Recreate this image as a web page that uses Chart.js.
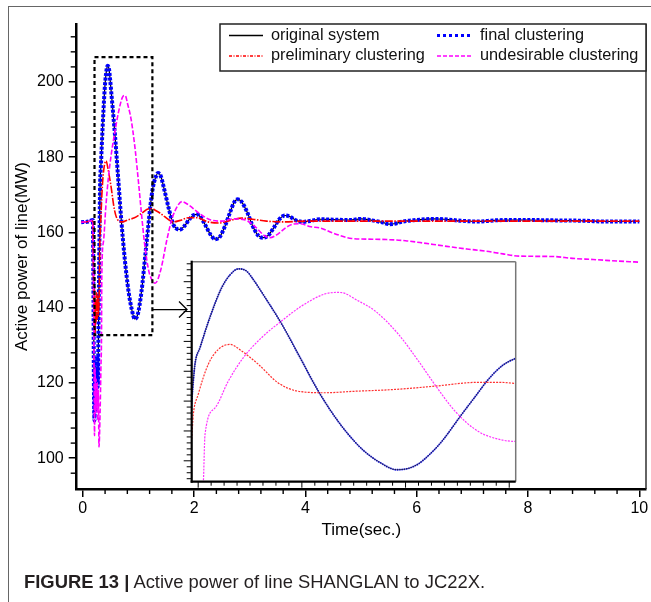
<!DOCTYPE html>
<html>
<head>
<meta charset="utf-8">
<script src="https://cdn.jsdelivr.net/npm/chart.js@4.4.0/dist/chart.umd.min.js"></script>
<style>
  body { margin: 0; background: #fff; }
  #wrap { position: relative; width: 651px; height: 602px; overflow: hidden; }
  #frame { position: absolute; left: 8px; top: 6px; width: 660px; height: 620px; border-left: 1.5px solid #666; border-top: 1.5px solid #666; }
  #main { position: absolute; left: 0; top: 0; }
  #inset { position: absolute; left: 181px; top: 255px; }
  #caption { position: absolute; left: 24px; top: 571px; line-height: 22px; font: 18.4px "Liberation Sans", Arial, sans-serif; color: #231f20; white-space: nowrap; }
</style>
</head>
<body>
<div id="wrap">
  <div id="frame"></div>
  <canvas id="main" width="651" height="602"></canvas>
  <canvas id="inset" width="340" height="235"></canvas>
  <div id="caption"><b>FIGURE 13 |</b> Active power of line SHANGLAN to JC22X.</div>
</div>
<script>
const FONT = '"Liberation Sans", Arial, sans-serif';

// axis ticks
const xTicks = [0, 2, 4, 6, 8, 10];
const yTicks = [100, 120, 140, 160, 180, 200];

const seriesNames = ['original system', 'preliminary clustering', 'final clustering', 'undesirable clustering'];

// [time (s), active power (MW)]
const originalSystem = [[-0.03,162.7],[0.1,162.9],[0.18,163.3],[0.19,150],[0.2,125],[0.21,117],[0.22,124],[0.23,116],[0.24,121],[0.25,118],[0.26,124],[0.27,120],[0.28,131],[0.29,146],[0.3,160],[0.31,172.3],[0.326,178],[0.356,188],[0.393,198.1],[0.42,202.5],[0.444,204.3],[0.47,203.5],[0.485,201.5],[0.526,194.8],[0.578,185.8],[0.629,175.7],[0.691,163.3],[0.752,153.2],[0.804,146.3],[0.835,143],[0.88,139.5],[0.933,137],[0.97,137.5],[1.0,139],[1.036,142.3],[1.072,146.5],[1.133,155.5],[1.175,161.5],[1.215,167.2],[1.26,172],[1.3,174.3],[1.35,175.8],[1.4,175],[1.47,171],[1.55,166],[1.63,162],[1.7,160.9],[1.75,160.8],[1.82,161.6],[1.9,163.2],[1.98,164.5],[2.05,164.8],[2.12,164],[2.2,162],[2.3,159.3],[2.38,158.2],[2.46,158.8],[2.55,161.5],[2.65,165.5],[2.72,168],[2.78,168.8],[2.85,168.2],[2.95,165.5],[3.05,161.8],[3.15,159.2],[3.24,158.6],[3.33,159.2],[3.43,161.2],[3.53,163.5],[3.63,164.5],[3.72,164.2],[3.82,163.3],[3.95,162.8],[4.1,163.1],[4.26,163.5],[4.5,163.4],[4.8,163.3],[5.0,163.6],[5.2,163.2],[5.4,162.6],[5.5,162.2],[5.6,162.3],[5.75,162.9],[6.0,163.3],[6.3,163.6],[6.5,163.5],[6.8,163.1],[7.1,162.9],[7.4,163.2],[7.7,163.3],[8.0,163.3],[8.5,163.2],[9.0,163.1],[9.4,162.9],[9.7,162.9],[10,162.9]];

const finalClustering = [[-0.03,162.7],[0.1,162.9],[0.18,163.3],[0.19,146],[0.2,118],[0.21,110],[0.22,122],[0.23,113],[0.24,125],[0.25,117],[0.26,127],[0.27,119],[0.28,132],[0.29,146],[0.3,160],[0.31,172.3],[0.326,178],[0.356,188],[0.393,198.1],[0.42,202.5],[0.444,204.3],[0.47,203.5],[0.485,201.5],[0.526,194.8],[0.578,185.8],[0.629,175.7],[0.691,163.3],[0.752,153.2],[0.804,146.3],[0.835,143],[0.88,139.5],[0.933,137],[0.97,137.5],[1.0,139],[1.036,142.3],[1.072,146.5],[1.133,155.5],[1.175,161.5],[1.215,167.2],[1.26,172],[1.3,174.3],[1.35,175.8],[1.4,175],[1.47,171],[1.55,166],[1.63,162],[1.7,160.9],[1.75,160.8],[1.82,161.6],[1.9,163.2],[1.98,164.5],[2.05,164.8],[2.12,164],[2.2,162],[2.3,159.3],[2.38,158.2],[2.46,158.8],[2.55,161.5],[2.65,165.5],[2.72,168],[2.78,168.8],[2.85,168.2],[2.95,165.5],[3.05,161.8],[3.15,159.2],[3.24,158.6],[3.33,159.2],[3.43,161.2],[3.53,163.5],[3.63,164.5],[3.72,164.2],[3.82,163.3],[3.95,162.8],[4.1,163.1],[4.26,163.5],[4.5,163.4],[4.8,163.3],[5.0,163.6],[5.2,163.2],[5.4,162.6],[5.5,162.2],[5.6,162.3],[5.75,162.9],[6.0,163.3],[6.3,163.6],[6.5,163.5],[6.8,163.1],[7.1,162.9],[7.4,163.2],[7.7,163.3],[8.0,163.3],[8.5,163.2],[9.0,163.1],[9.4,162.9],[9.7,162.9],[10,162.9]];

const preliminaryClustering = [[-0.03,162.7],[0.1,162.9],[0.18,163.2],[0.19,152],[0.2,138],[0.21,145],[0.22,133],[0.23,142],[0.24,136],[0.25,144],[0.26,137],[0.27,143],[0.28,138],[0.29,141],[0.3,147.6],[0.305,155.5],[0.32,162.2],[0.351,172.3],[0.382,177.3],[0.418,179],[0.454,176.8],[0.506,172.3],[0.567,166.1],[0.629,163.3],[0.711,162.8],[0.804,163.3],[0.927,163.9],[1.05,165],[1.185,166.3],[1.25,166.3],[1.3,165.9],[1.4,165],[1.55,163.3],[1.63,162.8],[1.75,163.2],[1.9,163.9],[2.05,163.9],[2.25,162.8],[2.45,162.5],[2.65,163.2],[2.85,163.8],[3.05,163.5],[3.3,163],[3.6,162.8],[4,163],[5,163],[6,163],[7,163],[8,163],[9,163],[10,163]];

const undesirableClustering = [[-0.03,162.7],[0.1,162.9],[0.18,163.2],[0.19,150],[0.2,128],[0.21,106],[0.22,124],[0.23,112],[0.24,121],[0.25,113],[0.26,120],[0.27,110],[0.28,118],[0.29,103],[0.31,112],[0.325,124],[0.336,133],[0.341,148.7],[0.372,157.7],[0.413,166.7],[0.459,174.5],[0.516,181.3],[0.578,186.9],[0.64,191.9],[0.711,195.9],[0.752,196.4],[0.773,196.1],[0.804,194.2],[0.866,190.2],[0.938,182.4],[1.0,173.4],[1.05,165.6],[1.113,156.6],[1.185,149.8],[1.257,147],[1.3,146.5],[1.4,150],[1.51,158],[1.6,163.5],[1.7,167],[1.78,168.2],[1.9,167.3],[2.1,165],[2.3,163.3],[2.5,163],[2.7,163.6],[2.9,163.4],[3.1,161.5],[3.25,159.3],[3.36,158.6],[3.5,159.5],[3.65,161.3],[3.78,162.2],[3.9,162.3],[4.1,161.5],[4.26,161.2],[4.5,159.8],[4.83,158.4],[5.2,158.2],[5.46,158.1],[5.8,157.8],[6.06,157.3],[6.3,156.8],[6.54,156.3],[6.9,155.6],[7.25,155],[7.55,154.3],[7.85,153.7],[8.45,153.6],[8.8,153.1],[9.17,152.8],[9.6,152.4],[10,152.1]];

// zoomed window (dashed box) and the range shown in the inset
const zoomBox = [0.21, 1.25, 132.7, 206.6];
const insetRange = [0.3, 1.3, 133, 206.7];

function toPoints(arr) {
  return arr.map(p => ({x: p[0], y: p[1]}));
}

function line(ctx, x1, y1, x2, y2) {
  ctx.beginPath(); ctx.moveTo(x1, y1); ctx.lineTo(x2, y2); ctx.stroke();
}

const legendStyles = [
  {color: '#000', width: 1.3, dash: []},
  {color: '#ff0000', width: 1.3, dash: [3, 1.5, 1, 1.5]},
  {color: '#0000ff', width: 3, dash: [3, 3]},
  {color: '#ff00ff', width: 1.3, dash: [4, 2]}
];

const mainDecor = {
  id: 'mainDecor',
  afterDraw(chart) {
    const ctx = chart.ctx, a = chart.chartArea, x = chart.scales.x, y = chart.scales.y;
    ctx.save();
    ctx.strokeStyle = '#000';
    ctx.lineWidth = 1.4;
    // minor ticks
    for (let i = 1; i < 25; i++) {
      if (i % 5 == 0) continue;
      const px = x.getPixelForValue(i * 0.4);
      line(ctx, px, a.bottom, px, a.bottom + 5);
    }
    for (let v = 96; v <= 212; v += 4) {
      if (v % 20 == 0) continue;
      const py = y.getPixelForValue(v);
      line(ctx, a.left - 6, py, a.left, py);
    }
    // right frame line
    ctx.strokeStyle = '#222';
    line(ctx, a.right, a.top, a.right, a.bottom);

    // dashed zoom box
    ctx.strokeStyle = '#000';
    ctx.lineWidth = 2.2;
    ctx.setLineDash([4, 3]);
    const bx1 = x.getPixelForValue(zoomBox[0]), bx2 = x.getPixelForValue(zoomBox[1]);
    const by1 = y.getPixelForValue(zoomBox[3]), by2 = y.getPixelForValue(zoomBox[2]);
    ctx.strokeRect(bx1, by1, bx2 - bx1, by2 - by1);
    ctx.setLineDash([]);

    // arrow to the inset
    const ay = y.getPixelForValue(139.5);
    ctx.lineWidth = 1.3;
    line(ctx, bx2, ay, 187, ay);
    ctx.beginPath();
    ctx.moveTo(179, ay - 8); ctx.lineTo(187, ay); ctx.lineTo(179, ay + 8);
    ctx.stroke();

    // legend box
    const lx = 220, ly = a.top, lw = a.right - 220, lh = 47;
    ctx.fillStyle = '#fff';
    ctx.fillRect(lx, ly, lw, lh);
    ctx.strokeStyle = '#222';
    ctx.lineWidth = 1.5;
    ctx.strokeRect(lx, ly, lw, lh);
    ctx.font = '16.3px ' + FONT;
    ctx.fillStyle = '#111';
    ctx.textBaseline = 'middle';
    const cols = [[229, 263, 271], [437, 472, 480]];
    const rows = [ly + 11.5, ly + 32];
    const slots = [[0, 0], [0, 1], [1, 0], [1, 1]];
    seriesNames.forEach((name, i) => {
      const c = cols[slots[i][0]], r = rows[slots[i][1]];
      const st = legendStyles[i];
      ctx.strokeStyle = st.color;
      ctx.lineWidth = st.width;
      ctx.setLineDash(st.dash);
      line(ctx, c[0], r, c[1], r);
      ctx.setLineDash([]);
      ctx.fillText(name, c[2], r);
    });
    ctx.restore();
  }
};

const mainChart = new Chart(document.getElementById('main'), {
  type: 'line',
  data: {
    datasets: [
      {label: seriesNames[3], data: toPoints(undesirableClustering), borderColor: '#ff00ff', borderWidth: 1.6, borderDash: [5, 2], order: 0},
      {label: seriesNames[1], data: toPoints(preliminaryClustering), borderColor: '#ff0000', borderWidth: 1.6, borderDash: [8, 1.5, 1.5, 1.5], order: 1},
      {label: seriesNames[2], data: toPoints(finalClustering), borderColor: '#0000ff', borderWidth: 4, borderDash: [3, 1.6], order: 2},
      {label: seriesNames[0], data: toPoints(originalSystem), borderColor: '#000', borderWidth: 1.2, order: 3}
    ]
  },
  options: {
    responsive: false,
    animation: false,
    devicePixelRatio: 1,
    elements: {point: {radius: 0}, line: {cubicInterpolationMode: 'monotone', fill: false}},
    layout: {padding: {left: 11.8, top: 24, right: 5, bottom: 61.8}},
    plugins: {legend: {display: false}, tooltip: {enabled: false}},
    scales: {
      x: {
        type: 'linear', min: -0.11, max: 10.12,
        afterBuildTicks: s => { s.ticks = xTicks.map(v => ({value: v})); },
        afterFit: s => { s.height = 51.2; },
        grid: {drawOnChartArea: false, drawTicks: true, tickLength: 8, color: '#000', lineWidth: 1.5},
        border: {display: true, color: '#000', width: 2.5},
        ticks: {padding: 2, color: '#000', font: {family: FONT, size: 16}, maxRotation: 0},
        title: {display: true, text: 'Time(sec.)', color: '#000', font: {family: FONT, size: 17}, padding: {top: 0, bottom: 0}}
      },
      y: {
        type: 'linear', min: 91.8, max: 215.4,
        afterBuildTicks: s => { s.ticks = yTicks.map(v => ({value: v})); },
        afterFit: s => { s.width = 64.9; },
        grid: {drawOnChartArea: false, drawTicks: true, tickLength: 8, color: '#000', lineWidth: 1.5},
        border: {display: true, color: '#000', width: 2.5},
        ticks: {padding: 5, color: '#000', font: {family: FONT, size: 16}},
        title: {display: true, text: 'Active power of line(MW)', color: '#000', font: {family: FONT, size: 17}, padding: {top: 0, bottom: 0}}
      }
    }
  },
  plugins: [mainDecor]
});

// inset: magnified view of the dashed window
const insetDecor = {
  id: 'insetDecor',
  beforeDraw(chart) {
    const ctx = chart.ctx, a = chart.chartArea;
    ctx.save();
    ctx.fillStyle = '#fff';
    ctx.fillRect(a.left, a.top, a.right - a.left, a.bottom - a.top);
    ctx.restore();
  },
  afterDraw(chart) {
    const ctx = chart.ctx, a = chart.chartArea, x = chart.scales.x, y = chart.scales.y;
    ctx.save();
    ctx.strokeStyle = '#777';
    ctx.lineWidth = 1.5;
    line(ctx, a.left, a.top, a.right, a.top);
    line(ctx, a.right, a.top, a.right, a.bottom);
    ctx.strokeStyle = '#000';
    ctx.lineWidth = 1;
    for (let v = 134; v <= 206; v += 2) {
      const py = y.getPixelForValue(v);
      line(ctx, a.left - (v % 10 == 0 ? 8 : 5), py, a.left, py);
    }
    for (let i = 8; i <= 32; i++) {
      const px = x.getPixelForValue(i * 0.04);
      line(ctx, px, a.bottom, px, a.bottom + (i % 8 == 0 ? 6 : 4));
    }
    ctx.lineWidth = 2.2;
    line(ctx, a.left, a.top - 1, a.left, a.bottom + 1);
    line(ctx, a.left - 1, a.bottom, a.right, a.bottom);
    ctx.restore();
  }
};

const insetChart = new Chart(document.getElementById('inset'), {
  type: 'line',
  data: {
    datasets: [
      {label: seriesNames[3], data: toPoints(undesirableClustering), borderColor: '#ff33ff', borderWidth: 1.2, borderDash: [2, 1.2], order: 0},
      {label: seriesNames[1], data: toPoints(preliminaryClustering), borderColor: '#ff3030', borderWidth: 1.2, borderDash: [2, 1.2], order: 1},
      {label: seriesNames[0], data: toPoints(originalSystem), borderColor: 'rgba(0,0,0,0.75)', borderWidth: 0.8, order: 2},
      {label: seriesNames[2], data: toPoints(finalClustering), borderColor: '#2020ff', borderWidth: 1.8, borderDash: [1.5, 0.8], order: 3}
    ]
  },
  options: {
    responsive: false,
    animation: false,
    devicePixelRatio: 1,
    elements: {point: {radius: 0}, line: {cubicInterpolationMode: 'monotone', fill: false}},
    layout: {padding: {left: 10.7, top: 6.7, right: 5.3, bottom: 8.3}},
    plugins: {legend: {display: false}, tooltip: {enabled: false}},
    scales: {
      x: {type: 'linear', display: false, min: insetRange[0], max: insetRange[1]},
      y: {type: 'linear', display: false, min: insetRange[2], max: insetRange[3]}
    }
  },
  plugins: [insetDecor]
});
</script>
</body>
</html>
